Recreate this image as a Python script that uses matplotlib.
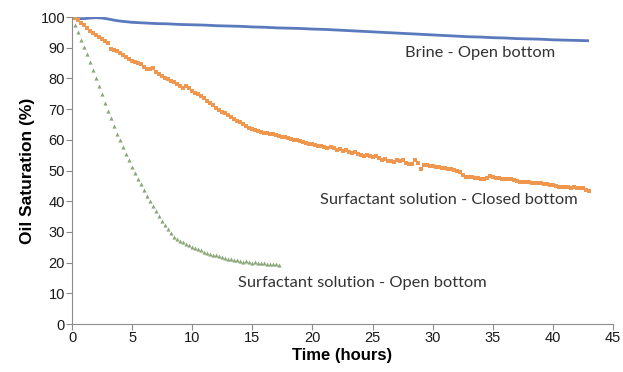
import numpy as np
from matplotlib import pyplot as plt

# brine - open bottom, read every hour (plus the early bump every half hour)
brine_t = [0, 0.5, 1, 1.5, 2, 2.5, 3, 3.5, 4, 4.5, 5, 5.5, 6, 7, 8, 9, 10, 11, 12,
           13, 14, 15, 16, 17, 18, 19, 20, 21, 22, 23, 24, 25, 26, 27, 28, 29, 30,
           31, 32, 33, 34, 35, 36, 37, 38, 39, 40, 41, 42, 43]
brine_s = [100, 99.5, 99.5, 99.7, 99.8, 99.7, 99.4, 99.0, 98.7, 98.5, 98.3, 98.2, 98.1,
           97.9, 97.8, 97.6, 97.5, 97.4, 97.2, 97.1, 97.0, 96.8, 96.7, 96.5, 96.4,
           96.3, 96.1, 96.0, 95.8, 95.6, 95.4, 95.2, 95.0, 94.8, 94.6, 94.4, 94.2,
           94.0, 93.8, 93.6, 93.5, 93.3, 93.2, 93.0, 92.9, 92.8, 92.6, 92.5, 92.4, 92.3]

# surfactant - closed bottom, read every 15 min
closed_t = np.arange(0, 43.01, 0.25)
closed_s = [100, 99.6, 99.0, 98.2, 97.3, 96.5, 95.6, 94.8, 94.2, 93.6, 92.9, 92.3, 91.6,
            89.5, 89.2, 88.8, 88.2, 87.6, 87.0, 86.4, 85.8, 85.5, 85.2, 84.6, 83.6,
            83.2, 83.0, 83.4, 82.2, 81.5, 80.9, 80.3, 79.8, 79.2, 78.7, 78.1, 77.4,
            77.0, 77.6, 76.8, 76.0, 75.4, 74.8, 74.2, 73.5, 72.8, 72.0, 71.2, 70.5,
            69.8, 69.1, 68.6, 68.1, 67.5, 66.9, 66.3, 65.7, 65.1, 64.6, 64.0, 63.6,
            63.3, 62.9, 62.6, 62.4, 62.2, 62.0, 61.9, 61.5, 61.2, 61.0, 60.8, 60.6,
            60.3, 60.1, 59.8, 59.5, 59.2, 59.0, 58.8, 58.6, 58.4, 58.1, 57.9, 57.7,
            57.3, 57.6, 57.2, 56.8, 57.1, 56.4, 56.7, 56.2, 55.6, 56.0, 55.4, 55.2,
            54.9, 55.2, 54.7, 54.4, 54.6, 54.0, 53.5, 53.7, 53.2, 53.0, 52.8, 53.4,
            53.1, 53.6, 52.4, 52.2, 52.0, 53.3, 52.6, 50.6, 51.9, 51.7, 51.6, 51.5,
            51.3, 51.0, 50.8, 50.7, 50.5, 50.6, 50.3, 49.9, 49.6, 48.6, 48.0, 47.9,
            47.8, 47.7, 47.6, 47.3, 47.2, 47.6, 48.1, 47.8, 47.6, 47.5, 47.3, 47.2,
            47.1, 47.1, 46.9, 46.6, 46.4, 46.3, 46.3, 46.2, 46.1, 46.0, 45.9, 45.8,
            45.6, 45.5, 45.3, 45.2, 44.9, 44.8, 44.6, 44.7, 44.6, 44.4, 44.5, 44.3,
            44.2, 44.2, 43.8, 43.4]

# surfactant - open bottom, read every 15 min
open_t = np.arange(0, 17.26, 0.25)
open_s = [100, 97.5, 95, 92.5, 90.2, 88, 85.5, 82.8, 80.2, 77.5, 74.8, 72, 69.5, 67,
          64.5, 62, 59.8, 57.6, 55.5, 53.4, 51.3, 49.3, 47.4, 45.5, 43.6, 41.8, 40.1,
          38.4, 36.8, 35.2, 33.7, 32.2, 30.8, 29.5, 28.5, 27.8, 27.2, 26.6, 26.1,
          25.7, 25.2, 24.8, 24.3, 24.0, 23.6, 23.3, 22.9, 22.6, 22.4, 22.0, 21.8,
          21.6, 21.3, 21.2, 20.9, 20.8, 20.6, 20.3, 20.4, 20.1, 20.0, 20.2, 19.9,
          19.8, 19.9, 19.6, 19.5, 19.7, 19.4, 19.2]

labels = ['Brine - Open bottom', 'Surfactant solution - Closed bottom',
          'Surfactant solution - Open bottom']

plt.rcParams['font.family'] = ['Liberation Sans', 'DejaVu Sans']

fig = plt.figure(figsize=(6.23, 3.72), dpi=100)
ax = fig.add_axes([0.1156, 0.129, 0.8684, 0.825])

ax.plot(brine_t, brine_s, '-', color='#5b79bd', lw=2.0, solid_capstyle='butt')
ax.plot(closed_t, closed_s, 's', color='#f0974f', ms=2.2, mew=0)
ax.plot(open_t, open_s, '^', color='#8aa77a', ms=3.0, mew=0)

ax.set_xlim(0, 45)
ax.set_ylim(0, 100)
ax.set_xticks(range(0, 46, 5))
ax.set_yticks(range(0, 101, 10))
for side in ['top', 'right']:
    ax.spines[side].set_visible(False)
for side in ['left', 'bottom']:
    ax.spines[side].set_color('#8c8c8c')
ax.tick_params(colors='#8c8c8c', length=4, labelcolor='#1a1a1a', labelsize=10.5, pad=1)

ax.set_xlabel('Time (hours)', fontsize=12, fontweight='bold', labelpad=2)
ax.set_ylabel('Oil Saturation (%)', fontsize=12.5, fontweight='bold', labelpad=4)

lbl_font = dict(family=['Lato', 'DejaVu Sans'], fontsize=11.8, color='#333333',
                ha='left', va='center')
ax.text(27.7, 88.3, labels[0], **lbl_font)
ax.text(20.6, 40.4, labels[1], **lbl_font)
ax.text(13.8, 13.4, labels[2], **lbl_font)

fig.savefig('out.png', dpi=100)
